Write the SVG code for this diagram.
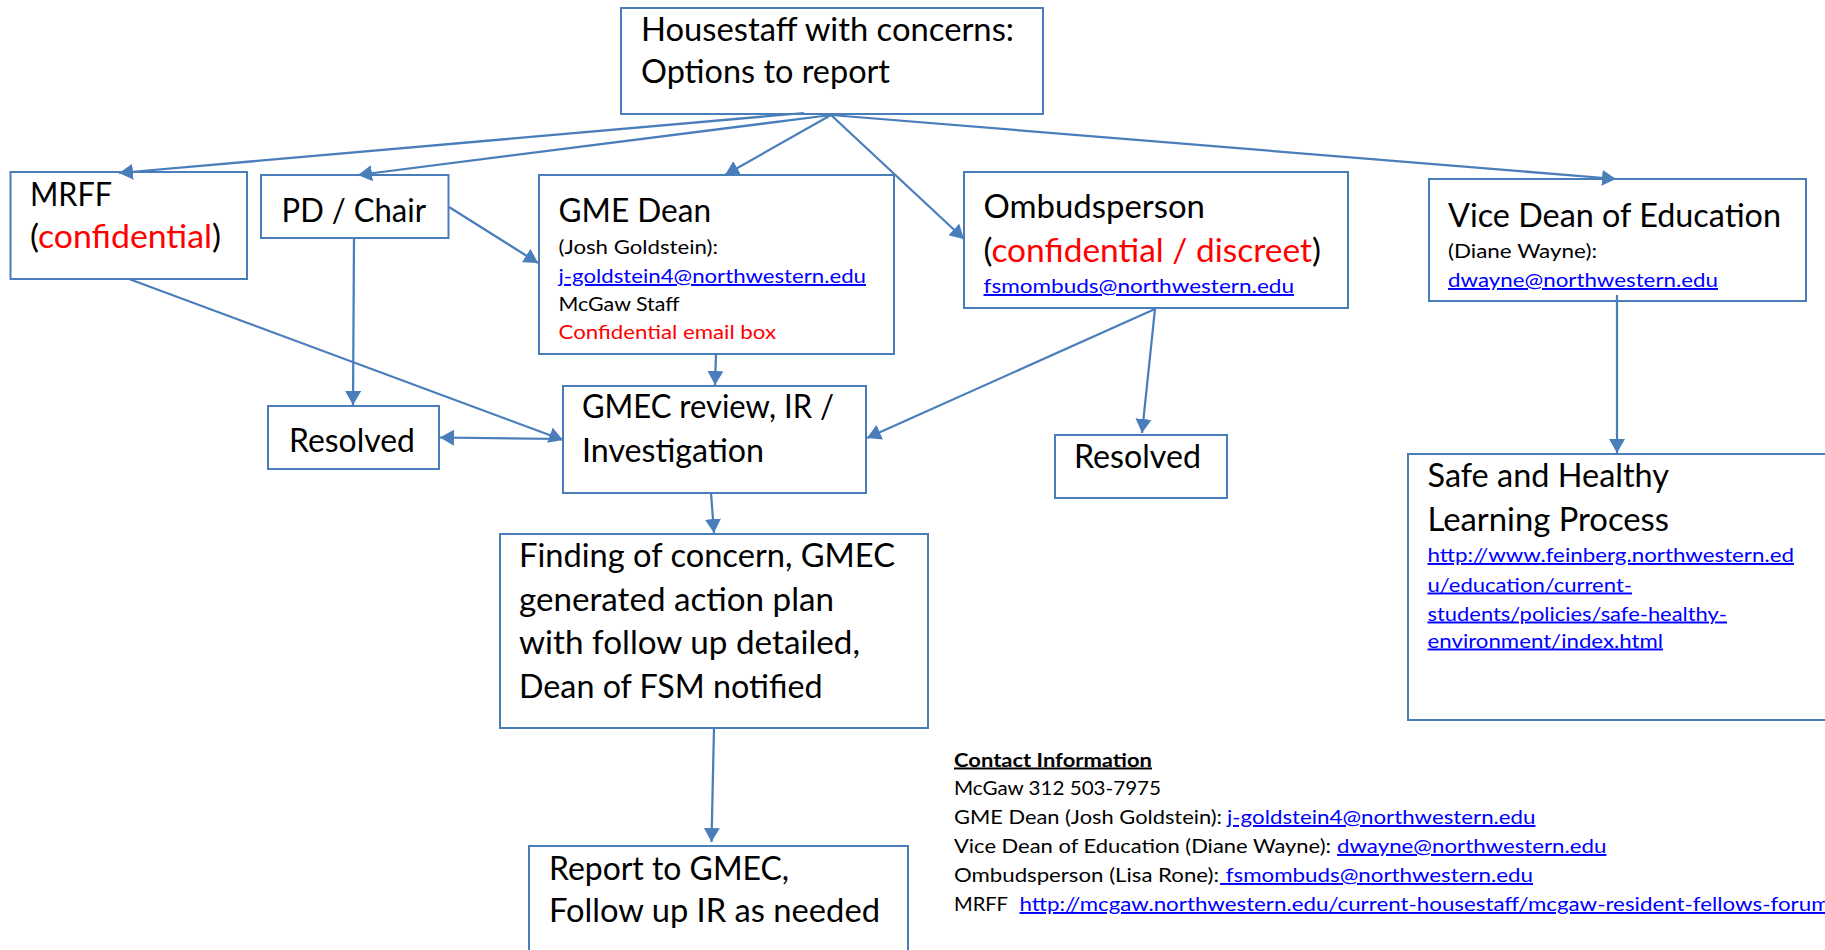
<svg xmlns="http://www.w3.org/2000/svg" width="1825" height="950" viewBox="0 0 1825 950">
<style>
.box{fill:#ffffff;stroke:#4A7EBB;stroke-width:2}
text{font-family:Lato,"Open Sans","Liberation Sans",sans-serif;fill:#000000}
.L{font-size:32px}
.S{font-size:19.5px}
.lnk{fill:#0000FF;text-decoration:underline}
.red{fill:#FF0000}
.b{font-weight:bold;text-decoration:underline}
.conn line{stroke:#4A7EBB;stroke-width:2.25;fill:none;marker-end:url(#ah)}
</style>
<defs>
<marker id="ah" markerUnits="userSpaceOnUse" markerWidth="16" markerHeight="16" refX="14" refY="8" orient="auto">
<path d="M0,0 L14,8 L0,16 z" fill="#4A7EBB"/>
</marker>
</defs>
<rect width="1825" height="950" fill="#ffffff"/>

<g id="node-top">
<rect class="box" x="621" y="8" width="422" height="106"/>
<text class="L" x="641" y="41" textLength="373" lengthAdjust="spacingAndGlyphs">Housestaff with concerns:</text>
<text class="L" x="641" y="83" textLength="249" lengthAdjust="spacingAndGlyphs">Options to report</text>
</g>

<g id="node-mrff">
<rect class="box" x="10.5" y="172" width="236.5" height="107"/>
<text class="L" x="30" y="206" textLength="82" lengthAdjust="spacingAndGlyphs">MRFF</text>
<text class="L" x="30" y="248" textLength="191" lengthAdjust="spacingAndGlyphs">(<tspan class="red">confidential</tspan>)</text>
</g>

<g id="node-pd">
<rect class="box" x="261" y="175" width="187.5" height="63"/>
<text class="L" x="281.5" y="222" textLength="144.5" lengthAdjust="spacingAndGlyphs">PD / Chair</text>
</g>

<g id="node-gme">
<rect class="box" x="539" y="175" width="355" height="179"/>
<text class="L" x="558.5" y="222" textLength="152.5" lengthAdjust="spacingAndGlyphs">GME Dean</text>
<text class="S" x="558.5" y="254" textLength="159.5" lengthAdjust="spacingAndGlyphs">(Josh Goldstein):</text>
<text class="S lnk" x="558.5" y="283" textLength="307.5" lengthAdjust="spacingAndGlyphs">j-goldstein4@northwestern.edu</text>
<text class="S" x="558.5" y="311" textLength="121" lengthAdjust="spacingAndGlyphs">McGaw Staff</text>
<text class="S red" x="558.5" y="339" textLength="217.5" lengthAdjust="spacingAndGlyphs">Confidential email box</text>
</g>

<g id="node-gmec">
<rect class="box" x="563" y="386" width="303" height="107"/>
<text class="L" x="582" y="418" textLength="252" lengthAdjust="spacingAndGlyphs">GMEC review, IR /</text>
<text class="L" x="582" y="462" textLength="182" lengthAdjust="spacingAndGlyphs">Investigation</text>
</g>

<g id="node-resolved-left">
<rect class="box" x="268" y="406" width="171" height="63"/>
<text class="L" x="289" y="452" textLength="126" lengthAdjust="spacingAndGlyphs">Resolved</text>
</g>

<g id="node-ombuds">
<rect class="box" x="964" y="172" width="384" height="136"/>
<text class="L" x="983.5" y="218" textLength="221.5" lengthAdjust="spacingAndGlyphs">Ombudsperson</text>
<text class="L" x="983.5" y="262" textLength="337.5" lengthAdjust="spacingAndGlyphs">(<tspan class="red">confidential / discreet</tspan>)</text>
<text class="S lnk" x="983.5" y="293" textLength="310.5" lengthAdjust="spacingAndGlyphs">fsmombuds@northwestern.edu</text>
</g>

<g id="node-vicedean">
<rect class="box" x="1429" y="179" width="377" height="122"/>
<text class="L" x="1448" y="227" textLength="333" lengthAdjust="spacingAndGlyphs">Vice Dean of Education</text>
<text class="S" x="1448" y="258" textLength="149" lengthAdjust="spacingAndGlyphs">(Diane Wayne):</text>
<text class="S lnk" x="1448" y="287" textLength="270" lengthAdjust="spacingAndGlyphs">dwayne@northwestern.edu</text>
</g>

<g id="node-resolved-right">
<rect class="box" x="1055" y="435" width="172" height="63"/>
<text class="L" x="1074" y="468" textLength="127" lengthAdjust="spacingAndGlyphs">Resolved</text>
</g>

<g id="node-safe">
<rect class="box" x="1408" y="454" width="440" height="266"/>
<text class="L" x="1427.5" y="487" textLength="241.5" lengthAdjust="spacingAndGlyphs">Safe and Healthy</text>
<text class="L" x="1427.5" y="530.5" textLength="241.5" lengthAdjust="spacingAndGlyphs">Learning Process</text>
<text class="S lnk" x="1427.5" y="562" textLength="366.5" lengthAdjust="spacingAndGlyphs">http://www.feinberg.northwestern.ed</text>
<text class="S lnk" x="1427.5" y="591.5" textLength="204.5" lengthAdjust="spacingAndGlyphs">u/education/current-</text>
<text class="S lnk" x="1427.5" y="620.5" textLength="299.5" lengthAdjust="spacingAndGlyphs">students/policies/safe-healthy-</text>
<text class="S lnk" x="1427.5" y="647.5" textLength="235.5" lengthAdjust="spacingAndGlyphs">environment/index.html</text>
</g>

<g id="node-finding">
<rect class="box" x="500" y="534" width="428" height="194"/>
<text class="L" x="519" y="567" textLength="376" lengthAdjust="spacingAndGlyphs">Finding of concern, GMEC</text>
<text class="L" x="519" y="611" textLength="315" lengthAdjust="spacingAndGlyphs">generated action plan</text>
<text class="L" x="519" y="654" textLength="341" lengthAdjust="spacingAndGlyphs">with follow up detailed,</text>
<text class="L" x="519" y="698" textLength="303.5" lengthAdjust="spacingAndGlyphs">Dean of FSM notified</text>
</g>

<g id="node-report">
<rect class="box" x="529" y="846" width="379" height="130"/>
<text class="L" x="549" y="880" textLength="240" lengthAdjust="spacingAndGlyphs">Report to GMEC,</text>
<text class="L" x="549" y="922" textLength="331" lengthAdjust="spacingAndGlyphs">Follow up IR as needed</text>
</g>

<g id="contact-info">
<text class="S b" x="954" y="766.5" textLength="198" lengthAdjust="spacingAndGlyphs">Contact Information</text>
<text class="S" x="954" y="795" textLength="207" lengthAdjust="spacingAndGlyphs">McGaw 312 503-7975</text>
<text class="S" x="954" y="824" textLength="268" lengthAdjust="spacingAndGlyphs">GME Dean (Josh Goldstein):</text>
<text class="S lnk" x="1227" y="824" textLength="308.5" lengthAdjust="spacingAndGlyphs">j-goldstein4@northwestern.edu</text>
<text class="S" x="954" y="853" textLength="377" lengthAdjust="spacingAndGlyphs">Vice Dean of Education (Diane Wayne):</text>
<text class="S lnk" x="1337" y="853" textLength="269.5" lengthAdjust="spacingAndGlyphs">dwayne@northwestern.edu</text>
<text class="S" x="954" y="882" textLength="265" lengthAdjust="spacingAndGlyphs">Ombudsperson (Lisa Rone):</text>
<text class="S lnk" x="1220" y="882" textLength="313" lengthAdjust="spacingAndGlyphs" xml:space="preserve" style="white-space:pre"> fsmombuds@northwestern.edu</text>
<text class="S" x="954" y="911" textLength="54" lengthAdjust="spacingAndGlyphs">MRFF</text>
<text class="S lnk" x="1019.5" y="911" textLength="810" lengthAdjust="spacingAndGlyphs">http://mcgaw.northwestern.edu/current-housestaff/mcgaw-resident-fellows-forum</text>
</g>

<g id="connectors" class="conn">
<line x1="804" y1="113" x2="119" y2="173"/>
<line x1="831" y1="115" x2="358" y2="175"/>
<line x1="831" y1="115" x2="725" y2="175"/>
<line x1="831" y1="115" x2="964" y2="239"/>
<line x1="831" y1="115" x2="1616" y2="179"/>
<line x1="449" y1="207" x2="538" y2="263"/>
<line x1="354" y1="238" x2="353" y2="405"/>
<line x1="129" y1="279" x2="563" y2="440"/>
<line x1="716" y1="354" x2="715" y2="385"/>
<line x1="563" y1="439" x2="440" y2="437.5"/>
<line x1="1155" y1="309" x2="867" y2="438"/>
<line x1="1155" y1="309" x2="1142" y2="433"/>
<line x1="1617" y1="295" x2="1617" y2="453"/>
<line x1="711" y1="493" x2="714" y2="533"/>
<line x1="714" y1="728" x2="711.5" y2="842"/>
</g>
</svg>
